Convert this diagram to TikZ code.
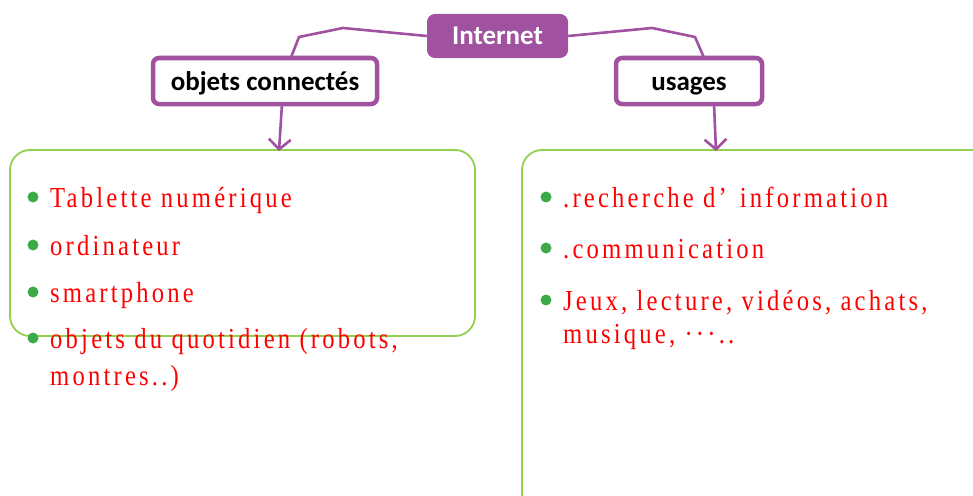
\documentclass[tikz,border=0pt]{standalone}
\usepackage{fontspec}
\setmainfont{Liberation Serif}
\newfontfamily\headfont{Carlito}
\newfontfamily\itemfont[LetterSpace=11,FakeStretch=0.85]{Liberation Serif}
\usetikzlibrary{arrows.meta}
\definecolor{mpurple}{HTML}{A052A0}
\definecolor{mgreen}{HTML}{92D050}
\definecolor{mbullet}{HTML}{3DAA4A}
\begin{document}
\begin{tikzpicture}[x=1pt,y=-1pt,
  conn/.style={draw=mpurple,line width=2.6pt},
  arr/.style={draw=mpurple,line width=2.6pt,-{Straight Barb[length=10pt,width=22pt,line width=2.6pt]}},
  topbox/.style={fill=mpurple,rounded corners=8pt,text=white,font=\headfont\bfseries\fontsize{27}{30}\selectfont,inner sep=0pt,minimum width=141pt,minimum height=44pt,text height=22pt,text depth=4pt},
  catbox/.style={draw=mpurple,fill=white,line width=4.5pt,rounded corners=6pt,font=\headfont\bfseries\fontsize{27}{30}\selectfont,inner sep=0pt,text height=22pt,text depth=4pt},
  greenbox/.style={draw=mgreen,line width=1.8pt,rounded corners=20pt},
  item/.style={text=red,font=\itemfont\fontsize{29}{32}\selectfont,anchor=base west,inner sep=0pt},
  bul/.style={circle,fill=mbullet,inner sep=0pt,minimum size=11pt}]
\useasboundingbox (0,0) rectangle (973,495);
\clip (0,0) rectangle (973,495);
% green boxes
\draw[greenbox] (10,150) rectangle (475,336);
\draw[greenbox] (522,150) rectangle (1000,520);
% connectors
\coordinate (l1) at (343,28);
\coordinate (l2) at (299,37);
\coordinate (l3) at (290,60);
\coordinate (r1) at (652,28);
\coordinate (r2) at (695,37);
\coordinate (r3) at (705,60);
\coordinate (la) at (279,151);
\coordinate (ra) at (716,151);
\node[topbox] (inet) at (497.5,36) {Internet};
\draw[conn] (inet.west) -- (l1) -- (l2) -- (l3);
\draw[conn] (inet.east) -- (r1) -- (r2) -- (r3);
\node[catbox,minimum width=224pt,minimum height=46pt] (obj) at (265,81) {objets connectés};
\node[catbox,minimum width=146pt,minimum height=46pt] (usa) at (689,81) {usages};
\draw[arr] (282,104) -- (la);
\draw[arr] (714,104) -- (ra);
% left items
\node[bul] (b1) at (33,197) {};
\node[bul] (b2) at (33,245) {};
\node[bul] (b3) at (33,292) {};
\node[bul] (b4) at (33,338) {};
\node[item] (t1) at (50,207) {Tablette numérique};
\node[item] (t2) at (50,255) {ordinateur};
\node[item] (t3) at (50,302) {smartphone};
\node[item] (t4) at (50,348) {objets du quotidien (robots,};
\node[item] (t5) at (50,385) {montres..)};
% right items
\node[bul] (c1) at (546,197) {};
\node[bul] (c2) at (546,248) {};
\node[bul] (c3) at (546,300) {};
\node[item] (u1) at (563,207) {.recherche d’\hspace{13pt}information};
\node[item] (u2) at (563,258) {.communication};
\node[item] (u3) at (563,310) {Jeux, lecture, vidéos, achats,};
\node[item] (u4) at (563,343) {musique, ···..};
\end{tikzpicture}
\end{document}
